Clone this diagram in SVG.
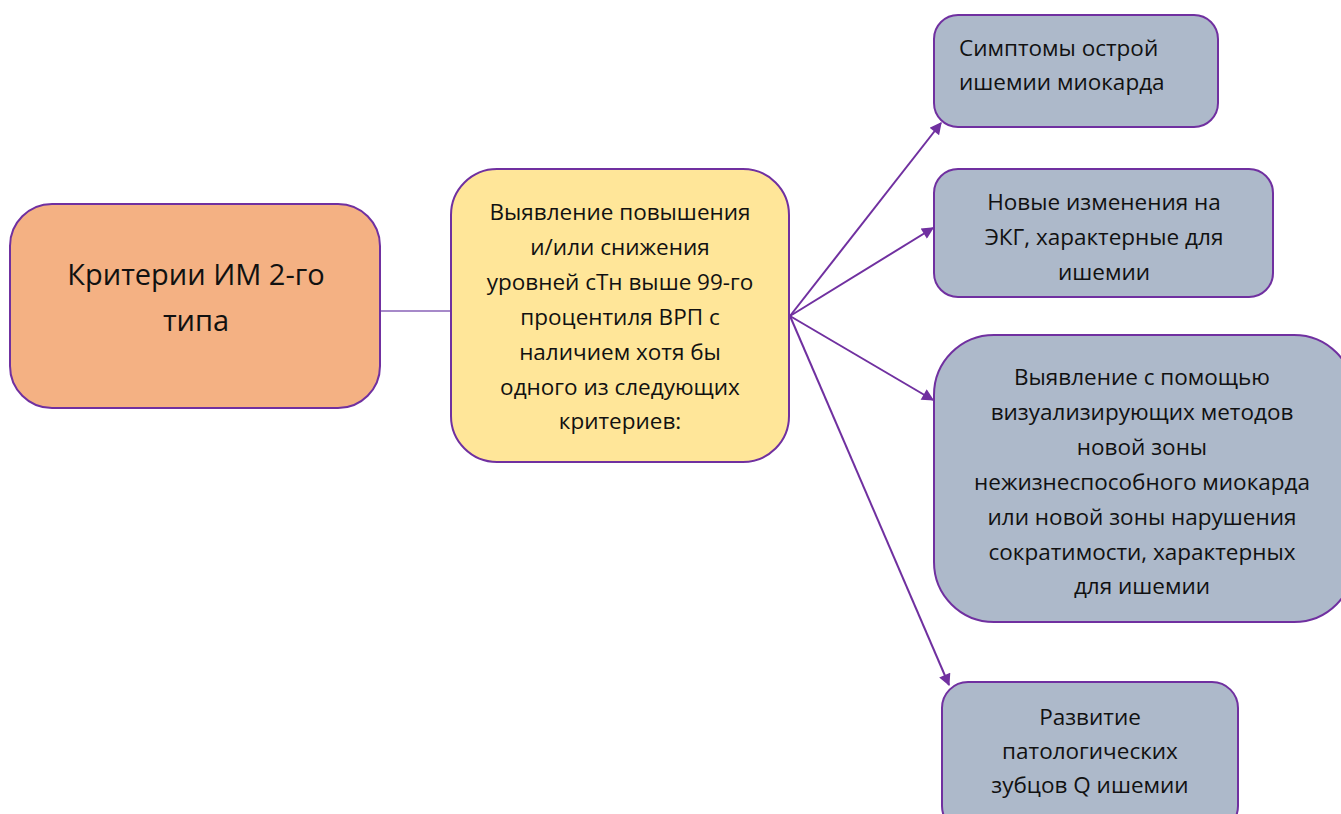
<svg xmlns="http://www.w3.org/2000/svg" width="1341" height="814" viewBox="0 0 1341 814">
<style>
.box{stroke:#7030A0;stroke-width:2}
.t{font-family:"Open Sans","Noto Sans","DejaVu Sans",sans-serif;fill:#111111;font-size:22.5px}
.c{text-anchor:middle}
.big{font-size:29px}
.arr{stroke:#7030A0;stroke-width:2;fill:none;marker-end:url(#ah)}
</style>
<defs>
<marker id="ah" viewBox="0 0 10 10" refX="9" refY="5" markerWidth="14" markerHeight="12" orient="auto" markerUnits="userSpaceOnUse">
<path d="M0,0 L10,5 L0,10 z" fill="#7030A0"/>
</marker>
</defs>
<rect width="1341" height="814" fill="#ffffff"/>
<g id="connectors">
<line x1="380" y1="311" x2="452" y2="311" stroke="#A689C9" stroke-width="2"/>
<line class="arr" x1="790" y1="316" x2="941" y2="123"/>
<line class="arr" x1="790" y1="316" x2="933" y2="228"/>
<line class="arr" x1="790" y1="316" x2="933" y2="400"/>
<line class="arr" x1="790" y1="316" x2="949" y2="685"/>
</g>
<g id="node-root">
<rect class="box" x="10" y="204" width="370" height="204" rx="42" fill="#F4B183"/>
<text class="t c big" x="196" y="285">Критерии ИМ 2-го</text>
<text class="t c big" x="196" y="331">типа</text>
</g>
<g id="node-main">
<rect class="box" x="451" y="169" width="338" height="293" rx="46" fill="#FFE699"/>
<text class="t c" x="620" y="220">Выявление повышения</text>
<text class="t c" x="620" y="255">и/или снижения</text>
<text class="t c" x="620" y="290">уровней сТн выше 99-го</text>
<text class="t c" x="620" y="325">процентиля ВРП с</text>
<text class="t c" x="620" y="360">наличием хотя бы</text>
<text class="t c" x="620" y="395">одного из следующих</text>
<text class="t c" x="620" y="429">критериев:</text>
</g>
<g id="node-symptoms">
<rect class="box" x="934" y="15" width="284" height="112" rx="24" fill="#ADB9CA"/>
<text class="t" x="959" y="56">Симптомы острой</text>
<text class="t" x="959" y="90">ишемии миокарда</text>
</g>
<g id="node-ecg">
<rect class="box" x="934" y="169" width="339" height="128" rx="24" fill="#ADB9CA"/>
<text class="t c" x="1104" y="210">Новые изменения на</text>
<text class="t c" x="1104" y="245">ЭКГ, характерные для</text>
<text class="t c" x="1104" y="280">ишемии</text>
</g>
<g id="node-imaging">
<rect class="box" x="934" y="335" width="420" height="287" rx="60" fill="#ADB9CA"/>
<text class="t c" x="1142" y="385">Выявление с помощью</text>
<text class="t c" x="1142" y="420">визуализирующих методов</text>
<text class="t c" x="1142" y="455">новой зоны</text>
<text class="t c" x="1142" y="490">нежизнеспособного миокарда</text>
<text class="t c" x="1142" y="525">или новой зоны нарушения</text>
<text class="t c" x="1142" y="560">сократимости, характерных</text>
<text class="t c" x="1142" y="594">для ишемии</text>
</g>
<g id="node-q">
<rect class="box" x="942" y="682" width="296" height="150" rx="26" fill="#ADB9CA"/>
<text class="t c" x="1090" y="725">Развитие</text>
<text class="t c" x="1090" y="759">патологических</text>
<text class="t c" x="1090" y="793">зубцов Q ишемии</text>
</g>
</svg>
